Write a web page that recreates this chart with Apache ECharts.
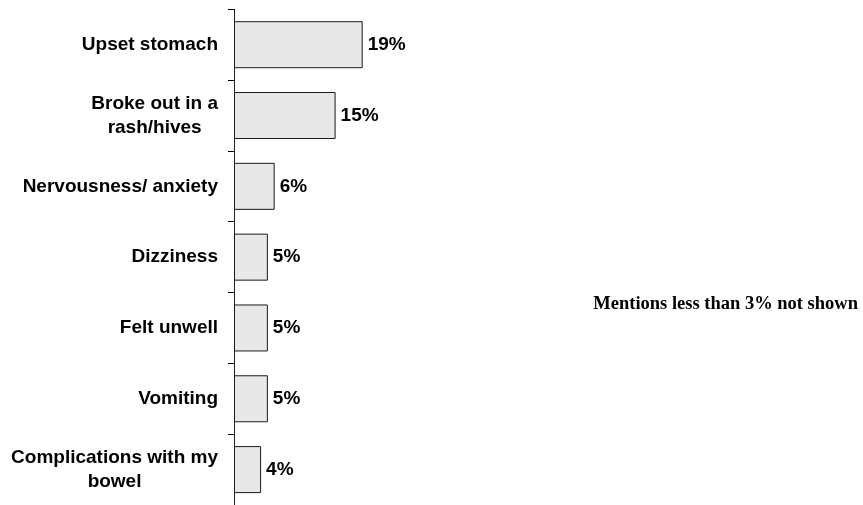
<!DOCTYPE html>
<html>
<head>
<meta charset="utf-8">
<script src="https://cdn.jsdelivr.net/npm/echarts@6/dist/echarts.min.js"></script>
<style>
  html, body { margin: 0; padding: 0; background: #ffffff; }
  #chart { width: 863px; height: 505px; }
</style>
</head>
<body>
<div id="chart"></div>
<script>
// Side effects reported (percent of respondents)
const categories = [
  'Upset stomach',
  'Broke out in a\nrash/hives',
  'Nervousness/ anxiety',
  'Dizziness',
  'Felt unwell',
  'Vomiting',
  'Complications with my\nbowel'
];
const values = [19, 15, 6, 5, 5, 5, 4];
const noteText = 'Mentions less than 3% not shown';

const chart = echarts.init(document.getElementById('chart'), null, { renderer: 'canvas' });

chart.setOption({
  animation: false,
  backgroundColor: '#ffffff',
  grid: { left: 234, top: 9.3, height: 498.4, width: 541.9, containLabel: false },
  xAxis: {
    type: 'value', min: 0, max: 80, show: false
  },
  yAxis: {
    type: 'category',
    inverse: true,
    data: categories,
    axisLine: { show: true, lineStyle: { color: '#222222', width: 1 } },
    axisTick: { show: true, length: 6, lineStyle: { color: '#000000', width: 1 } },
    axisLabel: {
      margin: 16,
      // each line of a wrapped label is centred within its block
      formatter: function (v) {
        return v.split('\n').map(function (s) { return '{c|' + s + '}'; }).join('\n');
      },
      rich: {
        c: {
          align: 'center',
          fontFamily: '"Liberation Sans", Arial, sans-serif',
          fontWeight: 'bold',
          fontSize: 19,
          lineHeight: 24,
          color: '#000000'
        }
      }
    }
  },
  series: [{
    type: 'bar',
    data: values,
    barWidth: 47,
    itemStyle: { color: '#e8e8e8', borderColor: '#1a1a1a', borderWidth: 1 },
    label: {
      show: true,
      position: 'right',
      distance: 5,
      formatter: '{c}%',
      fontFamily: '"Liberation Sans", Arial, sans-serif',
      fontWeight: 'bold',
      fontSize: 19,
      color: '#000000'
    }
  }],
  graphic: [{
    type: 'text',
    x: 858,
    y: 304,
    style: {
      text: noteText,
      align: 'right',
      verticalAlign: 'middle',
      fontFamily: '"Liberation Serif", "Times New Roman", serif',
      fontWeight: 'bold',
      fontSize: 18.5,
      fill: '#000000'
    }
  }]
});
</script>
</body>
</html>
